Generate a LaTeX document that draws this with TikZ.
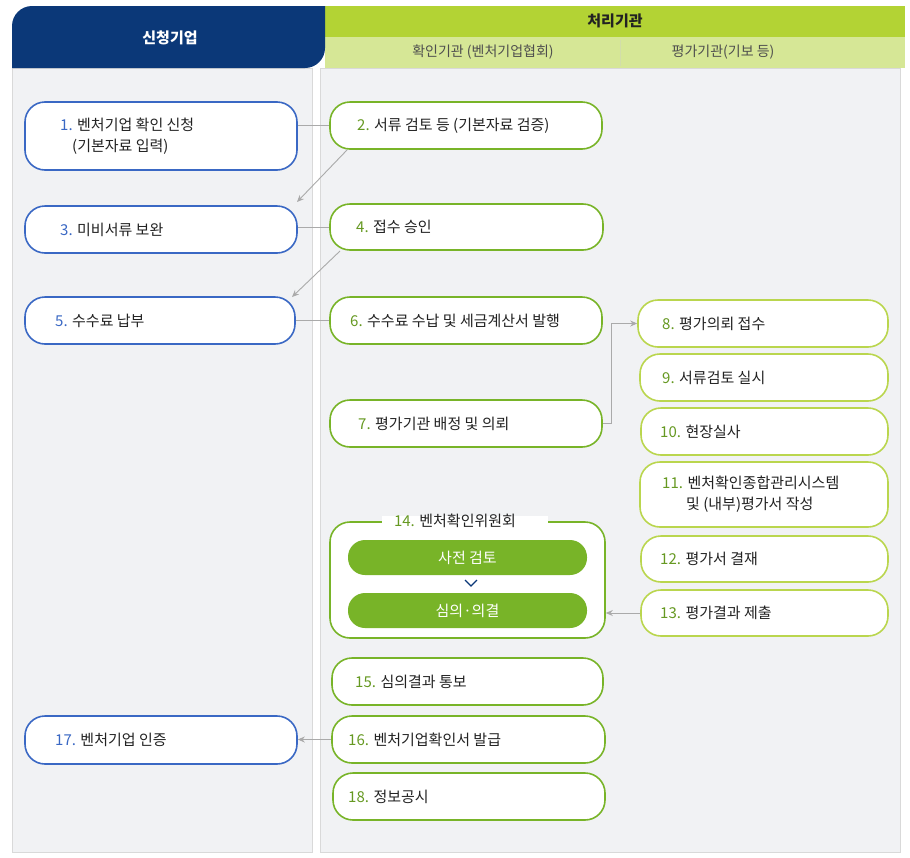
\documentclass[tikz,border=0pt]{standalone}
\usepackage{fontspec}
\setmainfont{Noto Sans CJK KR}
\usetikzlibrary{arrows.meta}
\definecolor{navy}{HTML}{0B3878}
\definecolor{lime}{HTML}{B3D334}
\definecolor{limel}{HTML}{D6E796}
\definecolor{bgg}{HTML}{F1F2F4}
\definecolor{blu}{HTML}{3A68C4}
\definecolor{grn}{HTML}{78B428}
\definecolor{grnl}{HTML}{BAD64E}
\definecolor{txt}{HTML}{222222}
\definecolor{gln}{HTML}{AAAAAA}
\tikzset{
 bx/.style={draw, line width=1.6pt, fill=white, rounded corners=20pt, inner sep=0pt},
 lb/.style={bx, draw=blu},
 mb/.style={bx, draw=grn},
 rb/.style={bx, draw=grnl},
 tx/.style={anchor=west, inner sep=0pt, text=txt, font=\fontsize{15}{21}\selectfont, align=left},
 cn/.style={draw=gln, line width=0.9pt},
 ar/.style={cn, -{Stealth[length=7pt,width=6pt]}},
}
\newcommand{\bn}[1]{\textcolor{blu}{#1}}
\newcommand{\gn}[1]{\textcolor{grn!85!black}{#1}}
\begin{document}
\begin{tikzpicture}[x=1pt,y=-1pt]
\useasboundingbox (0,0) rectangle (910,857);
% columns
\fill[bgg] (12,68) rectangle (312,852);
\fill[bgg] (320,68) rectangle (900,852);
\draw[gray!30] (12,68) rectangle (312,852);
\draw[gray!30] (320,68) rectangle (900,852);
% headers
\fill[lime] (325,6) rectangle (905,37);
\fill[limel] (325,37) rectangle (905,68);
\draw[lime!80!black!40] (620,40) -- (620,66);
\fill[navy] (12,68) [rounded corners=20pt] -- (12,6) [sharp corners] -- (325,6) [rounded corners=20pt] -- (325,68) [sharp corners] -- cycle;
\node[text=white,font=\fontsize{15}{17}\selectfont\bfseries] (h1) at (170,38) {신청기업};
\node[text=txt,font=\fontsize{15}{17}\selectfont\bfseries] (h2) at (615,21) {처리기관};
\node[text=txt!80,font=\fontsize{14}{17}\selectfont] (h3) at (483,52) {확인기관 (벤처기업협회)};
\node[text=txt!80,font=\fontsize{14}{17}\selectfont] (h4) at (723,52) {평가기관(기보 등)};
% left boxes
\node[lb, minimum width=272, minimum height=68] (b1) at (161,136) {};
\node[tx] at (60,136) {\bn{1.} 벤처기업 확인 신청\\\hspace{12pt}(기본자료 입력)};
\node[lb, minimum width=272, minimum height=47] (b3) at (161,229.5) {};
\node[tx] at (60,229.5) {\bn{3.} 미비서류 보완};
\node[lb, minimum width=270, minimum height=47] (b5) at (160,320.5) {};
\node[tx] at (55,320.5) {\bn{5.} 수수료 납부};
\node[lb, minimum width=272, minimum height=48] (b17) at (161,740) {};
\node[tx] at (55,740) {\bn{17.} 벤처기업 인증};
% middle boxes
\node[mb, minimum width=272, minimum height=47] (b2) at (466,125.5) {};
\node[tx] at (357,125.5) {\gn{2.} 서류 검토 등 (기본자료 검증)};
\node[mb, minimum width=273, minimum height=46] (b4) at (466.5,227) {};
\node[tx] at (356,227) {\gn{4.} 접수 승인};
\node[mb, minimum width=272, minimum height=47] (b6) at (466,320.5) {};
\node[tx] at (350,320.5) {\gn{6.} 수수료 수납 및 세금계산서 발행};
\node[mb, minimum width=272, minimum height=47] (b7) at (466,423.5) {};
\node[tx] at (358,423.5) {\gn{7.} 평가기관 배정 및 의뢰};
\node[mb, minimum width=275, minimum height=116] (b14) at (467.5,580) {};
\fill[white] (382,516) rectangle (548,528);
\node[tx, anchor=center] (l14) at (455,521) {\gn{14.} 벤처확인위원회};
\node[fill=grn, rounded corners=17pt, minimum width=239, minimum height=35, text=white, font=\fontsize{15}{17}\selectfont] (p1) at (467.5,557.5) {사전 검토};
\node[fill=grn, rounded corners=17pt, minimum width=239, minimum height=35, text=white, font=\fontsize{15}{17}\selectfont] (p2) at (467.5,610.5) {심의·의결};
\draw[navy, line width=1.3pt] (465,580) -- (471,586) -- (477,580);
\node[mb, minimum width=271, minimum height=47] (b15) at (467.5,681.5) {};
\node[tx] at (355,681.5) {\gn{15.} 심의결과 통보};
\node[mb, minimum width=273, minimum height=47] (b16) at (468.5,739.5) {};
\node[tx] at (348,739.5) {\gn{16.} 벤처기업확인서 발급};
\node[mb, minimum width=272, minimum height=47] (b18) at (469,796.5) {};
\node[tx] at (348,796.5) {\gn{18.} 정보공시};
% right boxes
\node[rb, minimum width=250, minimum height=47] (b8) at (763,323.5) {};
\node[tx] at (662,323.5) {\gn{8.} 평가의뢰 접수};
\node[rb, minimum width=248, minimum height=47] (b9) at (764,377.5) {};
\node[tx] at (662,377.5) {\gn{9.} 서류검토 실시};
\node[rb, minimum width=247, minimum height=47] (b10) at (764.5,431.5) {};
\node[tx] at (660,431.5) {\gn{10.} 현장실사};
\node[rb, minimum width=248, minimum height=65] (b11) at (764,494.5) {};
\node[tx] at (662,494.5) {\gn{11.} 벤처확인종합관리시스템\\\hspace{24pt}및 (내부)평가서 작성};
\node[rb, minimum width=247, minimum height=46] (b12) at (764.5,559) {};
\node[tx] at (660,559) {\gn{12.} 평가서 결재};
\node[rb, minimum width=247, minimum height=46] (b13) at (764.5,613) {};
\node[tx] at (660,613) {\gn{13.} 평가결과 제출};
% connectors
\draw[cn] (b1.east |- b2) -- (b2.west);
\draw[ar] (347,150) -- (297,202);
\draw[cn] (b3.east |- b4) -- (b4.west);
\draw[ar] (340,251) -- (292,297);
\draw[cn] (b5.east) -- (b6.west);
\draw[ar] (b7.east) -- (611,423.5) -- (611,323.5) -- (b8.west);
\draw[ar] (b13.west) -- (b14.east |- b13);
\draw[ar] (b16.west) -- (b17.east |- b16);
\end{tikzpicture}
\end{document}
